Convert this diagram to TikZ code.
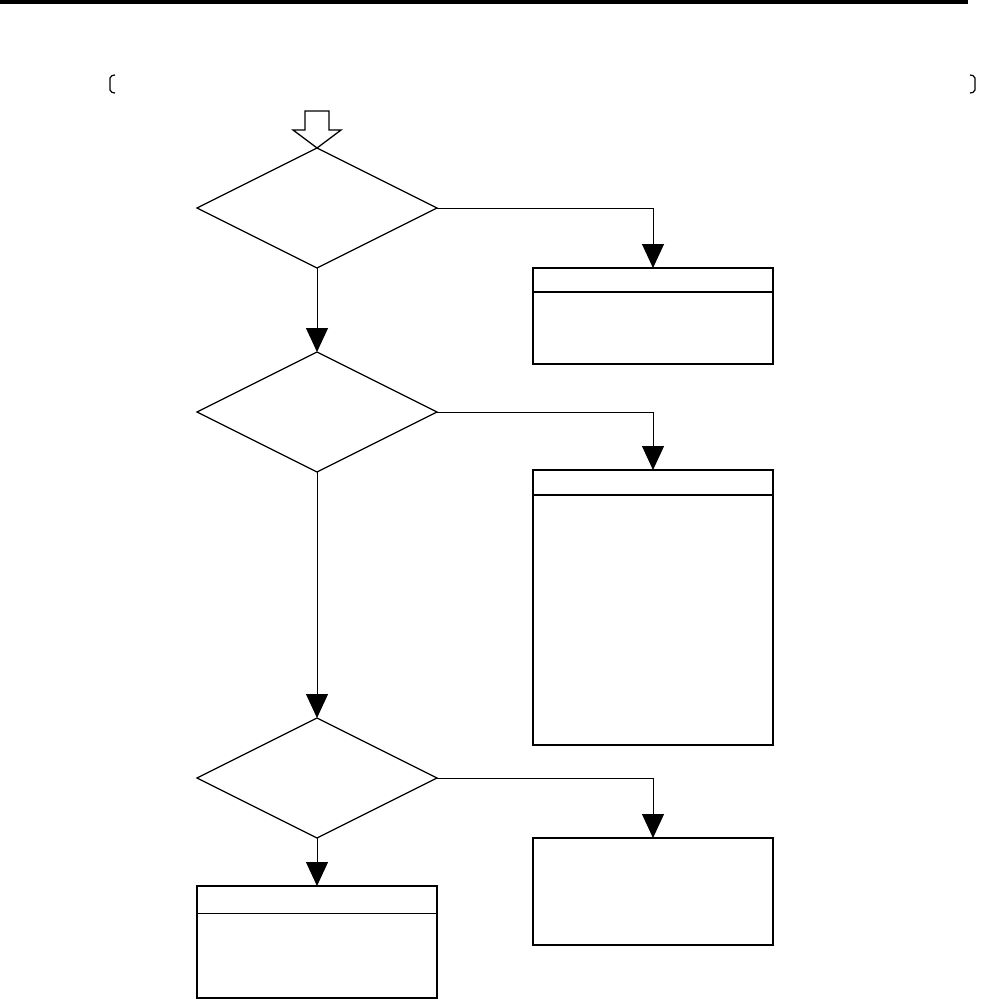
\documentclass[tikz,border=0pt]{standalone}
\usetikzlibrary{shapes.geometric,arrows.meta}
\begin{document}
\begin{tikzpicture}[x=1pt,y=-1pt,
  decision/.style={diamond,draw,line width=1.3pt,minimum width=240pt,minimum height=120pt,aspect=2,inner sep=0pt,outer sep=0pt},
  procbox/.style={rectangle,draw,line width=2pt,minimum width=240pt,inner sep=0pt,outer sep=0pt},
  flow/.style={line width=1pt,-{Triangle[width=22pt,length=24pt]}}]
\useasboundingbox (0,0) rectangle (981,1001);
\fill[white] (0,0) rectangle (981,1001);
% header bar
\fill[black] (0,0) rectangle (968,4);
% brackets
\draw[line width=1.2pt,rounded corners=2pt] (115,75) -- (110,76) -- (110,92) -- (115,93);
\draw[line width=1.2pt,rounded corners=2pt] (970,75) -- (975,76) -- (975,92) -- (970,93);
% block arrow
\draw[line width=1.3pt,fill=white] (305,111) -- (329,111) -- (329,130) -- (341,130) -- (317,148) -- (293,130) -- (305,130) -- cycle;
% decisions
\node[decision] (d1) at (317,208) {};
\node[decision] (d2) at (317,412) {};
\node[decision] (d3) at (317,778) {};
% boxes
\node[procbox,minimum height=96pt] (b1) at (653,316) {};
\node[procbox,minimum height=275pt] (b2) at (653,607.5) {};
\node[procbox,minimum height=107pt] (b3) at (653,891.5) {};
\node[procbox,minimum height=112pt] (b4) at (317,942) {};
% inner dividers
\draw[line width=2pt] ([yshift=-24pt]b1.north west) -- ([yshift=-24pt]b1.north east);
\draw[line width=2pt] ([yshift=-25pt]b2.north west) -- ([yshift=-25pt]b2.north east);
\draw[line width=1pt] ([yshift=-27pt]b4.north west) -- ([yshift=-27pt]b4.north east);
% connectors
\draw[flow] (d1.east) -| (b1.north);
\draw[flow] (d2.east) -| (b2.north);
\draw[flow] (d3.east) -| (b3.north);
\draw[flow] (d1.south) -- (d2.north);
\draw[flow] (d2.south) -- (d3.north);
\draw[flow] (d3.south) -- (b4.north);
\end{tikzpicture}
\end{document}
